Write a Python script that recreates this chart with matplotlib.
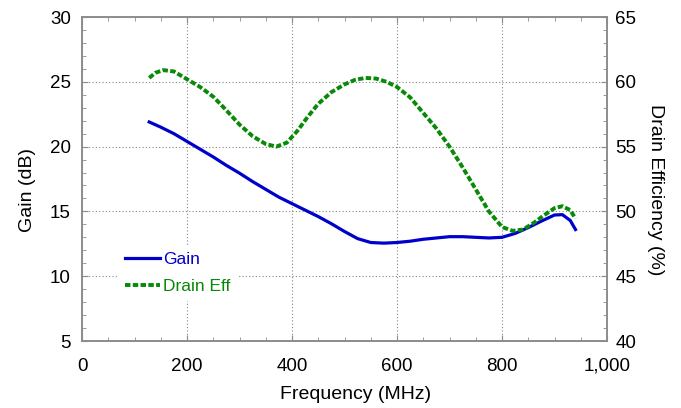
import numpy as np
import matplotlib.pyplot as plt
from matplotlib.ticker import MultipleLocator, FuncFormatter

plt.rcParams['font.family'] = ['Liberation Sans', 'DejaVu Sans']

# Gain curve (MHz, dB)
freq_gain = [128, 150, 175, 200, 225, 250, 275, 300, 325, 350, 375, 400, 425, 450, 475,
             500, 525, 550, 575, 600, 625, 650, 675, 700, 725, 750, 775, 800, 825, 850,
             875, 900, 915, 930, 940]
gain = [21.9, 21.5, 21.0, 20.4, 19.8, 19.2, 18.55, 17.95, 17.3, 16.7, 16.1, 15.6, 15.1, 14.6, 14.05,
        13.45, 12.9, 12.6, 12.55, 12.6, 12.7, 12.85, 12.95, 13.05, 13.05, 13.0, 12.95, 13.0, 13.3, 13.75,
        14.25, 14.72, 14.75, 14.3, 13.6]

# Drain efficiency curve (MHz, %)
freq_eff = [128, 140, 155, 175, 200, 225, 250, 275, 300, 325, 350, 370, 390, 410, 430,
            450, 475, 500, 520, 540, 560, 580, 600, 625, 650, 675, 700, 725, 750, 775,
            800, 820, 840, 860, 880, 900, 915, 930, 940]
eff = [60.3, 60.7, 60.9, 60.8, 60.2, 59.6, 58.85, 57.8, 56.7, 55.8, 55.2, 55.0, 55.3, 56.2, 57.3,
       58.3, 59.2, 59.8, 60.15, 60.3, 60.25, 60.0, 59.6, 58.8, 57.6, 56.4, 55.0, 53.4, 51.7, 50.0,
       48.8, 48.5, 48.6, 49.1, 49.7, 50.25, 50.4, 50.1, 49.45]

blue = '#0000cc'
green = '#078a07'
spine_col = '#8c8c8c'

fig = plt.figure(figsize=(6.81, 4.08), dpi=100)
ax = fig.add_axes([82/681, 1 - 341/408, 525/681, 324/408])
ax2 = ax.twinx()

l1, = ax.plot(freq_gain, gain, color=blue, lw=2.3, label='Gain')
l2, = ax2.plot(freq_eff, eff, color=green, lw=2.8, linestyle=(0, (1.4, 0.6)), label='Drain Eff')

ax.set_xlim(0, 1000)
ax.set_ylim(5, 30)
ax2.set_ylim(40, 65)

ax.xaxis.set_major_locator(MultipleLocator(200))
ax.xaxis.set_minor_locator(MultipleLocator(50))
ax.yaxis.set_major_locator(MultipleLocator(5))
ax.yaxis.set_minor_locator(MultipleLocator(1))
ax2.yaxis.set_major_locator(MultipleLocator(5))
ax2.yaxis.set_minor_locator(MultipleLocator(1))
ax.xaxis.set_major_formatter(FuncFormatter(lambda v, p: '{:,.0f}'.format(v)))

ax.grid(True, which='major', color='#888888', linestyle=(0, (1, 2)), lw=0.8)

for a in (ax, ax2):
    for s in a.spines.values():
        s.set_color(spine_col)
        s.set_linewidth(1.2)
    a.tick_params(which='both', direction='in', color=spine_col, labelsize=13.5)
    a.tick_params(which='major', length=4)
    a.tick_params(which='minor', length=3)
ax.tick_params(which='both', top=True)
ax.tick_params(axis='x', pad=12)
ax.tick_params(axis='y', pad=8)
ax2.tick_params(axis='y', pad=6)

ax.set_xlabel('Frequency (MHz)', fontsize=14, labelpad=8.5)
ax.set_ylabel('Gain (dB)', fontsize=14, labelpad=10)
ax2.set_ylabel('Drain Efficiency (%)', fontsize=14, rotation=270, labelpad=20)
ax.xaxis.label.set_x(0.522)
ax.yaxis.label.set_y(0.466)
ax2.yaxis.label.set_y(0.466)

leg = ax2.legend([l1, l2], ['Gain', 'Drain Eff'], loc='upper left',
                 bbox_to_anchor=(118/681, 1 - 245/408), bbox_transform=fig.transFigure,
                 borderaxespad=0, frameon=True, fancybox=False, facecolor='white',
                 edgecolor='none', framealpha=1, fontsize=12.5, labelcolor='linecolor',
                 handlelength=2.0, handletextpad=0.2, labelspacing=0.7, borderpad=0.4)

fig.savefig('out.png', dpi=100)
